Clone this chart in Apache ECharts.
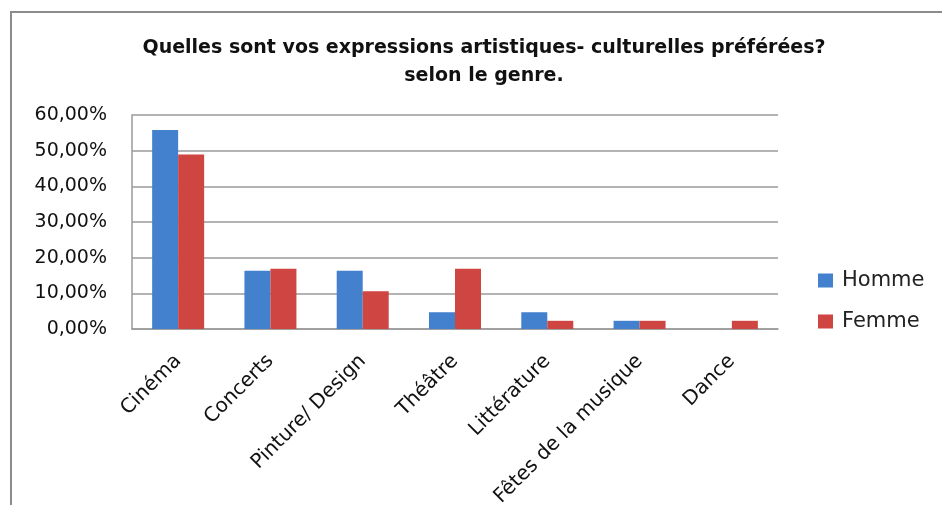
<!DOCTYPE html>
<html>
<head>
<meta charset="utf-8">
<script src="https://cdn.jsdelivr.net/npm/echarts@6/dist/echarts.min.js"></script>
<style>
  html, body { margin: 0; padding: 0; background: #fff; }
  #chart { width: 942px; height: 505px; }
</style>
</head>
<body>
<div id="chart"></div>
<script>
	// données (en %)
	var categories = ['Cinéma', 'Concerts', 'Pinture/ Design', 'Théâtre', 'Littérature', 'Fêtes de la musique', 'Dance'];
	var homme = [55.8, 16.3, 16.3, 4.7, 4.7, 2.3, 0];
	var femme = [48.9, 16.9, 10.6, 16.9, 2.3, 2.3, 2.3];
	var yTicks = [0, 10, 20, 30, 40, 50, 60];

	var fontName = 'DejaVu Sans';

	var chart = echarts.init(document.getElementById('chart'), null, { renderer: 'canvas' });
	chart.setOption({
		animation: false,
		backgroundColor: '#fff',
		title: {
			text: 'Quelles sont vos expressions artistiques- culturelles préférées?\nselon le genre.',
			left: 479,
			textAlign: 'center',
			top: 29,
			textStyle: {
				fontFamily: fontName,
				fontWeight: 'bold',
				fontSize: 19,
				lineHeight: 28,
				color: '#111'
			}
		},
		graphic: [{
			type: 'rect',
			shape: { x: 11, y: 12, width: 1000, height: 600 },
			style: { fill: 'none', stroke: '#8c8c8c', lineWidth: 2 }
		}],
		legend: {
			orient: 'vertical',
			left: 818,
			top: 270,
			padding: 0,
			itemWidth: 15,
			itemHeight: 14,
			itemGap: 20,
			icon: 'rect',
			textStyle: { fontFamily: fontName, fontSize: 21, color: '#222', padding: [0, 0, 0, 4] },
			data: ['Homme', 'Femme']
		},
		grid: { left: 132, right: 164, top: 115, bottom: 176, outerBoundsMode: 'none', containLabel: false },
		xAxis: {
			type: 'category',
			data: categories,
			axisLine: { lineStyle: { color: '#9a9a9a', width: 1.5 } },
			axisTick: { show: false },
			axisLabel: {
				rotate: 45,
				interval: 0,
				margin: 29,
				fontFamily: fontName,
				fontSize: 20,
				color: '#111'
			}
		},
		yAxis: {
			type: 'value',
			min: yTicks[0],
			max: yTicks[yTicks.length - 1],
			interval: 10,
			axisLine: { show: true, lineStyle: { color: '#9a9a9a', width: 1.5 } },
			axisTick: { show: false },
			splitLine: { lineStyle: { color: '#9a9a9a', width: 1.5 } },
			axisLabel: {
				margin: 25,
				fontFamily: fontName,
				fontSize: 19,
				color: '#111',
				formatter: function (v) { return v.toFixed(2).replace('.', ',') + '%'; }
			}
		},
		series: [{
			name: 'Homme',
			type: 'bar',
			data: homme,
			barWidth: 26,
			barGap: '0%',
			itemStyle: { color: '#4381ce' }
		}, {
			name: 'Femme',
			type: 'bar',
			data: femme,
			barWidth: 26,
			itemStyle: { color: '#cf4541' }
		}]
	});
</script>
</body>
</html>
